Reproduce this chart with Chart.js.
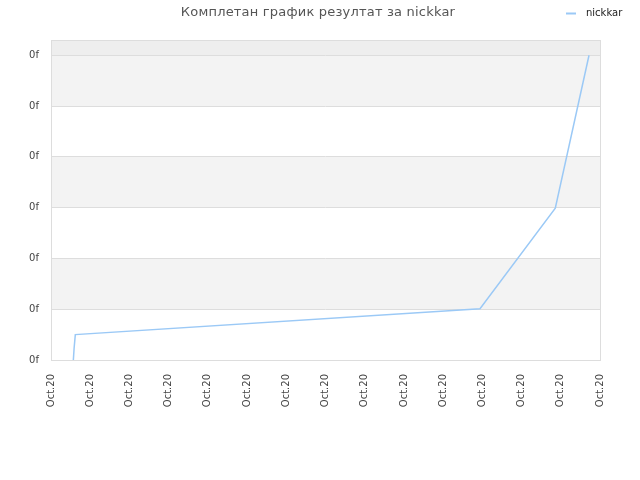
<!DOCTYPE html>
<html>
<head>
<meta charset="utf-8">
<script src="https://cdn.jsdelivr.net/npm/chart.js@4.4.0/dist/chart.umd.min.js"></script>
<style>
    body { margin: 0; background: #fff; }
    #wrap { width: 640px; height: 480px; position: relative; }
</style>
</head>
<body>
<div id="wrap"><canvas id="chart"></canvas></div>
<script>
// ---- data ----
var TITLE = "Комплетан график резултат за nickkar";
var SERIES_NAME = "nickkar";
var X_LABEL = "Oct.20";
var Y_LABEL = "0f";

// x in tick units (15 ticks, 0..14), y in grid units (0..6)
var X_VALUES = [0.57, 0.59, 0.62, 10.94, 12.86, 13.72];
var Y_VALUES = [0, 0.24, 0.5, 1.01, 2.99, 6.0];

var LINE_COLOR = "rgb(155,201,246)";
var FONT = "'DejaVu Sans', sans-serif";

var points = X_VALUES.map(function (x, i) { return { x: x, y: Y_VALUES[i] }; });

// alternating grey bands behind the grid
var bandsPlugin = {
    id: "bands",
    beforeDraw: function (chart) {
        var ctx = chart.ctx, area = chart.chartArea, y = chart.scales.y;
        ctx.save();
        for (var v = 0; v < 7; v++) {
            var top = y.getPixelForValue(Math.min(v + 1, y.max));
            var bottom = y.getPixelForValue(v);
            if (v === 6) ctx.fillStyle = "#eeeeee";
            else if (v % 2 === 1) ctx.fillStyle = "#f3f3f3";
            else continue;
            ctx.fillRect(area.left, top, area.right - area.left, bottom - top);
        }
        ctx.restore();
    },
    beforeDatasetsDraw: function (chart) {
        var ctx = chart.ctx, a = chart.chartArea;
        ctx.save();
        ctx.strokeStyle = "#dddddd";
        ctx.lineWidth = 1;
        ctx.strokeRect(Math.round(a.left) + 0.5, Math.round(a.top) + 0.5,
                       Math.round(a.right - a.left), Math.round(a.bottom - a.top));
        ctx.restore();
    }
};

// title and legend on one line at the top
var headerPlugin = {
    id: "header",
    afterDraw: function (chart) {
        var ctx = chart.ctx;
        ctx.save();
        ctx.textBaseline = "middle";
        ctx.font = "13px " + FONT;
        ctx.letterSpacing = "0.2px";
        ctx.fillStyle = "#555555";
        ctx.textAlign = "center";
        ctx.fillText(TITLE, 318, 13);
        ctx.letterSpacing = "0px";

        ctx.strokeStyle = LINE_COLOR;
        ctx.lineWidth = 2;
        ctx.beginPath();
        ctx.moveTo(566, 13.5);
        ctx.lineTo(576, 13.5);
        ctx.stroke();

        ctx.font = "10px " + FONT;
        ctx.fillStyle = "#222222";
        ctx.textAlign = "left";
        ctx.fillText(chart.data.datasets[0].label, 586, 13);
        ctx.restore();
    }
};

new Chart(document.getElementById("chart").getContext("2d"), {
    type: "line",
    data: {
        datasets: [{
            label: SERIES_NAME,
            data: points,
            borderColor: LINE_COLOR,
            borderWidth: 1.5,
            pointRadius: 0,
            tension: 0,
            fill: false
        }]
    },
    options: {
        responsive: true,
        maintainAspectRatio: false,
        animation: false,
        layout: { padding: { top: 40, right: 40, bottom: 0, left: 0 } },
        plugins: {
            legend: { display: false },
            title: { display: false },
            tooltip: { enabled: false }
        },
        scales: {
            x: {
                type: "linear",
                min: 0,
                max: 14,
                afterFit: function (s) { s.height = 120; },
                grid: { display: false, drawTicks: false },
                border: { display: false },
                ticks: {
                    stepSize: 1,
                    autoSkip: false,
                    minRotation: 90,
                    maxRotation: 90,
                    padding: 14,
                    color: "#444444",
                    font: { family: FONT, size: 10 },
                    callback: function () { return X_LABEL; }
                }
            },
            y: {
                min: 0,
                max: 6.3,
                afterFit: function (s) { s.width = 51; },
                afterBuildTicks: function (s) {
                    s.ticks = s.ticks.filter(function (t) { return Number.isInteger(t.value); });
                },
                grid: { color: "#dddddd", drawTicks: false },
                border: { display: false },
                ticks: {
                    stepSize: 1,
                    padding: 12,
                    color: "#444444",
                    font: { family: FONT, size: 10 },
                    callback: function () { return Y_LABEL; }
                }
            }
        }
    },
    plugins: [bandsPlugin, headerPlugin]
});
</script>
</body>
</html>
